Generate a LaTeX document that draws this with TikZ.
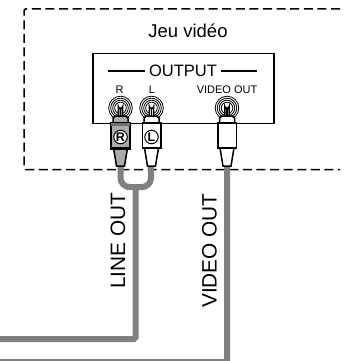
\documentclass[tikz,border=0pt]{standalone}
\usepackage{fontspec}
\setmainfont{Liberation Sans}
\usetikzlibrary{positioning}
\definecolor{cablegray}{HTML}{808080}
\definecolor{plugred}{HTML}{ABABAB}
\definecolor{bandred}{HTML}{6E6E6E}
\tikzset{
  unitbox/.style={draw=black, fill=white, line width=1.6pt},
  zone/.style={draw=black, line width=1.5pt, dash pattern=on 9pt off 4.6pt, rounded corners=1.5pt},
  cable/.style={draw=cablegray, line width=6pt},
  rule/.style={line width=1.3pt},
  lbl/.style={font=\fontsize{11pt}{12pt}\selectfont, inner sep=0pt},
  biglbl/.style={font=\fontsize{16.5pt}{18pt}\selectfont, inner sep=0pt},
  jeulbl/.style={font=\fontsize{18.5pt}{20pt}\selectfont, inner sep=0pt},
  sidelbl/.style={font=\fontsize{20.8pt}{22pt}\selectfont, inner sep=0pt, rotate=90},
  plugbody/.style={draw=black, line width=1.5pt, minimum width=18.5pt, minimum height=25pt, inner sep=0pt},
  tag/.style={draw=black, circle, fill=white, line width=1pt, minimum size=13.5pt, inner sep=0pt,
    font=\fontsize{12.5pt}{13pt}\selectfont\bfseries},
  ring/.style={draw=black, line width=0.8pt},
  plugline/.style={draw=black, line width=1.5pt},
}
\newcommand{\plug}[2]{
  \foreach \r in {11.8,9.8,7.8,5.8}
    \draw[ring] (#1,108) circle (\r pt);
  \draw[plugline, fill=#2] (#1-2.2,116) -- (#1-2.2,106.5) arc (180:0:2.2) -- (#1+2.2,116);
  \fill[black] (#1-0.9,107) rectangle (#1+0.9,116);
  \draw[plugline, fill=#2] (#1-7.5,123) -- (#1-7.5,118) -- (#1-5,116) -- (#1+5,116) -- (#1+7.5,118) -- (#1+7.5,123) -- cycle;
  \draw[plugline, fill=#2] (#1-7,148) -- (#1+7,148) -- (#1+4,166) -- (#1-4,166) -- cycle;
}
\begin{document}
\begin{tikzpicture}[x=1pt, y=-1pt]
  \useasboundingbox (0,0) rectangle (343,361);
  \draw[zone] (340,9) -- (24,9) -- (24,169.5) -- (340,169.5);
  \node[jeulbl] (jeu) at (188,31) {Jeu vidéo};
  \node[unitbox, minimum width=181pt, minimum height=70pt] (unit) at (183.5,88.5) {};

  \node[biglbl] (output) at (183,71) {OUTPUT};
  \coordinate (ol) at (108,71);
  \coordinate (or) at (257,71);
  \draw[rule] (ol) -- ([xshift=-4pt]output.west);
  \draw[rule] ([xshift=4pt]output.east) -- (or);
  \node[lbl] (rlbl) at (119.5,90) {R};
  \node[lbl] (llbl) at (152,90) {L};
  \node[lbl] (vlbl) at (227,90) {VIDEO OUT};

  \coordinate (rend) at (120.5,166);
  \coordinate (lend) at (151,166);
  \coordinate (vend) at (227,166);
  \coordinate (jn) at (135.5,187);
  \draw[cable, rounded corners=9pt] (rend) |- (jn) -| (lend);
  \draw[cable, rounded corners=1.5pt] (jn) -- (135.5,339) -- (-5,339);
  \draw[cable, rounded corners=1.5pt] (vend) -- (227,362) -- (-5,362);

  \plug{120.5}{plugred}
  \plug{151.5}{white}
  \plug{227}{white}

  \node[plugbody, fill=plugred] (rbody) at (120.5,135.5) {};
  \fill[bandred] (rbody.north west) rectangle ([yshift=-4pt]rbody.north east);
  \draw[plugline] (rbody.north west) rectangle (rbody.south east);
  \node[plugbody, fill=white] (lbody) at (151.5,135.5) {};
  \node[plugbody, fill=white] (vbody) at (227,135.5) {};
  \node[tag] (rtag) at (120.5,137) {R};
  \node[tag] (ltag) at (151.5,137) {L};

  \node[sidelbl] (lineout) at (118,241) {LINE OUT};
  \node[sidelbl] (videoout) at (209.5,250.5) {VIDEO OUT};
\end{tikzpicture}
\end{document}
